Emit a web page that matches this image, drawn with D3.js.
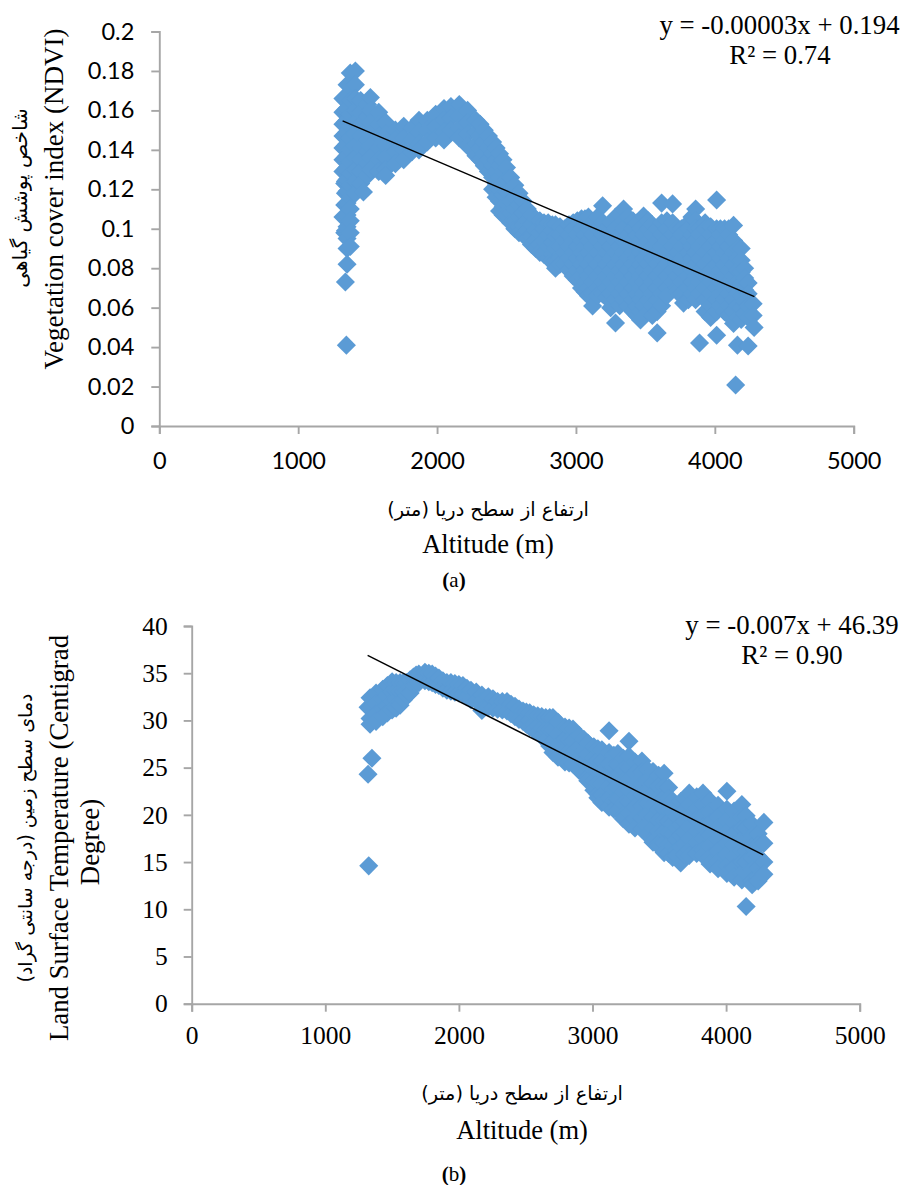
<!DOCTYPE html>
<html>
<head>
<meta charset="utf-8">
<title>NDVI and LST against altitude</title>
<script src="https://d3js.org/d3.v7.min.js"></script>
<style>
  body { margin: 0; background: #fff; }
  svg text { fill: #000; }
  .axis path, .axis line { stroke: #a6a6a6; stroke-width: 1.9; }
  .serif { font-family: "Liberation Serif", serif; }
  .persian { font-family: "DejaVu Sans", sans-serif; }
</style>
</head>
<body>
<div id="chart"></div>
<script>
// Panel (a), values: one altitude, then the NDVI values seen at it
var ndviAltitudes = [1322,1335,1340,1347,1352,1375,1412,1450,1470,1500,1520,1580,1630,1700,1760,1820,1870,1930,1990,2050,2100,2160,2220,2280,2310,2340,2370,2400,2425,2450,2475,2500,2530,2560,2590,2620,2650,2680,2710,2740,2770,2800,2830,2853,2885,2920,2950,2980,3010,3040,3065,3090,3120,3155,3192,3220,3250,3285,3315,3343,3375,3410,3440,3465,3487,3520,3550,3585,3617,3655,3696,3730,3760,3775,3810,3835,3862,3890,3930,3970,4013,4040,4070,4100,4135,4150,4163,4190,4215,4240,4276,4283];
var ndviValues = [
  [.166,.159,.153,.147,.141,.135,.129,.106],
  [.123,.112,.098],
  [.165,.16,.154,.148,.142,.136,.13,.124,.118,.112,.106,.099,.073],
  [.041],
  [.173,.167,.161,.155,.149,.143,.137,.131,.125,.119,.113,.107,.101,.095,.09,.082],
  [.179,.172,.165,.158,.152,.146,.14,.134,.128,.122,.116,.11,.104,.098,.091],
  [.18,.173,.166,.16,.154,.148,.142,.136,.13,.124,.118],
  [.165,.159,.153,.147,.141,.135,.129,.123],
  [.1186],
  [.163,.157,.151,.145,.139,.133,.127],
  [.1665,.16,.154,.148,.142,.136,.13],
  [.159,.153,.147,.141,.135,.129],
  [.154,.148,.142,.136,.13,.127],
  [.15,.145,.139,.133],
  [.152,.146,.14,.135],
  [.151,.145,.139],
  [.155,.149,.143,.14],
  [.155,.15,.144],
  [.158,.152,.146],
  [.161,.155,.149,.145],
  [.162,.156,.15],
  [.163,.157,.151,.146],
  [.16,.154,.148,.142],
  [.155,.149,.143,.137],
  [.153,.147,.141,.135],
  [.15,.144,.138,.132],
  [.147,.141,.135,.129],
  [.144,.138,.132,.126,.12],
  [.141,.135,.129,.123,.116],
  [.138,.132,.126,.12,.114,.109],
  [.135,.129,.123,.117,.111,.107],
  [.131,.125,.119,.113,.107],
  [.126,.12,.114,.108,.103],
  [.122,.116,.11,.104,.1],
  [.118,.112,.106,.101,.098],
  [.114,.108,.102,.097],
  [.11,.104,.099,.095],
  [.107,.102,.096,.092],
  [.105,.099,.094,.09],
  [.104,.098,.092,.088],
  [.103,.1,.094,.088,.087],
  [.103,.097,.091,.085],
  [.102,.099,.093,.087,.084],
  [.102,.096,.09,.084,.08],
  [.101,.097,.091,.085,.082],
  [.1,.094,.088,.082],
  [.102,.097,.091,.085,.079],
  [.103,.1,.094,.088,.082,.076],
  [.104,.097,.091,.085,.079,.074],
  [.105,.1,.094,.088,.082,.076,.07],
  [.105,.097,.091,.085,.079,.073,.068],
  [.106,.1,.094,.088,.082,.076,.07,.066],
  [.103,.097,.091,.085,.079,.073,.067,.0608],
  [.106,.1,.094,.088,.082,.076,.07,.066],
  [.1116,.103,.097,.091,.085,.079,.073,.067],
  [.1,.094,.088,.082,.076,.07,.065],
  [.103,.097,.091,.085,.079,.073,.067,.06],
  [.106,.1,.094,.088,.082,.076,.07,.064,.0522],
  [.107,.097,.091,.085,.079,.073,.067,.061],
  [.11,.104,.1,.094,.088,.082,.076,.07,.064],
  [.106,.097,.091,.085,.079,.073,.067,.061],
  [.104,.1,.094,.088,.082,.076,.07,.064,.058],
  [.103,.097,.091,.085,.079,.073,.067,.061,.056],
  [.1,.094,.088,.082,.076,.07,.064,.058,.0537],
  [.1065,.097,.091,.085,.079,.073,.067,.061],
  [.104,.1,.094,.088,.082,.076,.07,.064,.058],
  [.102,.097,.091,.085,.079,.073,.067,.061,.056],
  [.1,.094,.088,.082,.076,.07,.064,.058,.0472],
  [.113,.103,.097,.091,.085,.079,.073,.067,.061],
  [.104,.1,.094,.088,.082,.076,.07,.066],
  [.1126,.103,.097,.091,.085,.079,.073],
  [.1,.094,.088,.082,.076,.07,.068],
  [.1,.097,.091,.085,.079,.073,.067],
  [.0623],
  [.103,.1,.094,.088,.082,.076,.07,.064],
  [.106,.097,.091,.085,.079,.073,.067],
  [.11,.104,.1,.094,.088,.082,.076,.07,.064],
  [.1,.097,.091,.085,.079,.073,.067,.0421],
  [.103,.1,.094,.088,.082,.076,.07,.064,.058],
  [.101,.097,.091,.085,.079,.073,.067,.061,.055],
  [.1146,.1,.094,.088,.082,.076,.07,.064,.058,.046],
  [.1,.097,.091,.085,.079,.073,.067,.061],
  [.1,.094,.088,.082,.076,.07,.064,.058],
  [.1,.097,.091,.085,.079,.073,.067,.061,.056],
  [.1017,.094,.088,.082,.076,.07,.064,.058,.052],
  [.0208],
  [.09,.085,.079,.073,.067,.061,.055,.041],
  [.09,.084,.078,.072,.066,.06,.054],
  [.08,.075,.069,.063,.057],
  [.0725,.067,.061,.055,.0406],
  [.062,.056],
  [.05]
];
var ndviTrendAltitude = [1320, 4285];
var ndviTrendValue = [.1547, .0656];
var ndviTicks = [0, .02, .04, .06, .08, .1, .12, .14, .16, .18, .2];

// Panel (b), land surface temperature
var lstAltitudes = [1320,1325,1335,1349,1380,1430,1465,1500,1530,1560,1585,1610,1635,1660,1680,1700,1746,1775,1800,1825,1850,1880,1910,1940,1970,2000,2030,2060,2090,2130,2172,2220,2255,2290,2325,2360,2390,2420,2450,2480,2505,2530,2560,2590,2620,2650,2680,2704,2742,2794,2825,2854,2900,2935,2965,3010,3040,3070,3124,3160,3190,3230,3273,3318,3370,3410,3453,3495,3536,3570,3600,3630,3660,3690,3724,3780,3827,3880,3940,4006,4060,4118,4150,4195,4240,4283];
var lstValues = [
  [31.4,24.3],
  [14.6],
  [32.4,31.2,30.2,29.6],
  [26],
  [32.9,31.8,30.7,29.9],
  [33.3,32.2,31.2,30.4],
  [33.7,32.6,31.5,30.8],
  [34.1,33,32,31.1],
  [34,33.1,32.2,31.3],
  [34,33,32,31.6],
  [34,33.1,32.2],
  [34,33.2,32.6],
  [34.3,33.5,32.9],
  [34.6,33.7],
  [34.8,33.9],
  [34.9,34],
  [35.1,34.2],
  [35,34.1],
  [34.9,34],
  [34.7,33.8],
  [34.5,33.7],
  [34.2,33.4],
  [34,33.2],
  [34,33.1],
  [33.9,33],
  [33.8,32.9],
  [33.7,32.8],
  [33.4,32.5],
  [33.2,32.2],
  [33,32.1],
  [32.7,32,31.05],
  [32.5,31.4],
  [32.3,31.3],
  [32,31.2],
  [32,31.1],
  [32,31],
  [31.7,30.7],
  [31.5,30.4],
  [31.2,30.1],
  [31,29.9],
  [30.9,29.6],
  [30.8,30,29.3],
  [30.6,29.6,29],
  [30.5,29.4,28.7],
  [30.4,29.2,28.3],
  [30.3,29,27.9],
  [30.3,29,27.3],
  [30.3,29,27.8,26.6],
  [29.8,28.6,27.4,26.1],
  [29.3,28,26.8,25.6],
  [29.2,27.9,26.7,25.5],
  [29.1,27.8,26.6,25.4],
  [28.4,27.2,26,24.7],
  [28,26.8,25.6,24.3],
  [27.6,26.4,25.2,24,23.6],
  [27.2,26,24.8,23.6,22.6],
  [27,25.8,24.6,23.4,22.2,21.8],
  [26.9,25.7,24.5,23.3,22.1,21.3],
  [28.9,26.6,25.4,24.2,23,21.8,20.8],
  [26.3,25.1,23.9,22.7,21.5,20.6],
  [26.5,25.3,24.1,22.9,21.7,20.5],
  [26,24.8,23.6,22.4,21.2,20,19.6],
  [27.8,26.2,25,23.8,22.6,21.4,20.2,19],
  [25.6,24.4,23.2,22,20.8,19.6,18.6],
  [25.7,24.5,23.3,22.1,20.9,19.7,18.5],
  [24.8,23.6,22.4,21.2,20,18.8,17.9],
  [24.6,23.4,22.2,21,19.8,18.6,17.4,17.1],
  [24.2,23,21.8,20.6,19.4,18.2,17,16.7],
  [24.4,23,21.8,20.6,19.4,18.2,17,16],
  [22.9,21.7,20.5,19.3,18.1,16.9,15.9],
  [21.5,20.3,19.1,17.9,16.7,15.5],
  [21,19.8,18.6,17.4,16.2,15.7],
  [21.4,20.2,19,17.8,16.6,14.9],
  [21.7,20.5,19.3,18.1,16.9,15.8],
  [22.3,21.1,19.9,18.7,17.5,16.3,15.7],
  [21.9,20.7,19.5,18.3,17.1,15.9],
  [22.3,21.1,19.9,18.7,17.5,16.3,15.7],
  [21.5,20.3,19.1,17.9,16.7,15.5,14.8],
  [21,19.8,18.6,17.4,16.2,15,14.3],
  [22.5,20.6,19.4,18.2,17,15.8,14.6,13.8],
  [20.4,19.2,18,16.8,15.6,14.4,13.4],
  [21.1,19.8,18.6,17.4,16.2,15,13.8,13.1],
  [19.9,18.6,17.4,16.2,15,13.8,10.3],
  [19,17.8,16.6,15.4,14.2,13,12.6],
  [18,16.8,15.6,14.4,13.4,13],
  [19.2,17,15,13.7]
];
var lstTrendAltitude = [1317, 4278];
var lstTrendValue = [36.9, 15.75];
var lstTicks = [0, 5, 10, 15, 20, 25, 30, 35, 40];
var altitudeTicks = [0, 1000, 2000, 3000, 4000, 5000];

var pointColor = "#5b9bd5";
var diamond = d3.symbol().type(d3.symbolSquare).size(182);

var svg = d3.select("#chart").append("svg")
    .attr("width", 901)
    .attr("height", 1185);

function flatten(altitudes, values) {
  var points = [];
  altitudes.forEach(function(a, i) {
    values[i].forEach(function(v) { points.push([a, v]); });
  });
  return points;
}

function drawPanel(opts) {
  var x = d3.scaleLinear().domain([0, 5000]).range(opts.xRange);
  var y = d3.scaleLinear().domain(opts.yDomain).range(opts.yRange);
  var g = svg.append("g");

  g.append("g").attr("class", "axis")
      .attr("transform", "translate(0," + opts.yRange[0] + ")")
      .call(d3.axisBottom(x).tickValues(altitudeTicks).tickFormat(d3.format("d")).tickSize(8).tickSizeOuter(8).tickPadding(opts.xPad))
      .call(styleTicks, opts);

  g.append("g").attr("class", "axis")
      .attr("transform", "translate(" + opts.xRange[0] + ",0)")
      .call(d3.axisLeft(y).tickValues(opts.yTicks).tickFormat(function(d) { return String(d); }).tickSize(8).tickSizeOuter(8).tickPadding(opts.yPad))
      .call(styleTicks, opts);

  g.selectAll(".pt")
      .data(flatten(opts.altitudes, opts.values))
      .enter().append("path")
      .attr("class", "pt")
      .attr("d", diamond)
      .attr("fill", pointColor)
      .attr("transform", function(d) {
        return "translate(" + x(d[0]) + "," + y(d[1]) + ") rotate(45)";
      });

  g.append("path")
      .datum(d3.zip(opts.trendX, opts.trendY))
      .attr("d", d3.line().x(function(d) { return x(d[0]); }).y(function(d) { return y(d[1]); }))
      .attr("fill", "none")
      .attr("stroke", "#000")
      .attr("stroke-width", 1.4);
}

function styleTicks(sel, opts) {
  sel.selectAll("text")
      .style("font-family", opts.tickFont)
      .style("font-size", opts.tickSize + "px")
      .attr("fill", "#000");
}

function label(txt, xPos, yPos, size, cls, rotate) {
  svg.append("text")
      .attr("class", cls)
      .attr("text-anchor", "middle")
      .attr("transform", "translate(" + xPos + "," + yPos + ")" + (rotate ? " rotate(-90)" : ""))
      .style("font-size", size + "px")
      .text(txt);
}

drawPanel({
  xRange: [159.3, 853.7], yRange: [426, 31.5], yDomain: [0, .2],
  altitudes: ndviAltitudes, values: ndviValues,
  trendX: ndviTrendAltitude, trendY: ndviTrendValue,
  yTicks: ndviTicks, tickFont: "Lato, sans-serif", tickSize: 23.5, xPad: 18, yPad: 17
});

drawPanel({
  xRange: [191.7, 859.7], yRange: [1003.7, 626], yDomain: [0, 40],
  altitudes: lstAltitudes, values: lstValues,
  trendX: lstTrendAltitude, trendY: lstTrendValue,
  yTicks: lstTicks, tickFont: "'Liberation Serif', serif", tickSize: 25.5, xPad: 14, yPad: 16
});

// Panel (a) texts
label("y = -0.00003x + 0.194", 779.5, 34, 26.8, "serif");
label("R\u00b2 = 0.74", 780, 64, 26.8, "serif");
label("ارتفاع از سطح دریا (متر)", 488, 516, 19.3, "persian");
label("Altitude (m)", 488, 553, 26.5, "serif");
label("شاخص پوشش گیاهی", 27, 198, 20, "persian", true);
label("Vegetation cover index (NDVI)", 63, 199, 27, "serif", true);

// Panel (b) texts
label("y = -0.007x + 46.39", 792, 634, 26.8, "serif");
label("R\u00b2 = 0.90", 792, 664, 26.8, "serif");
label("ارتفاع از سطح دریا (متر)", 522, 1100, 19.3, "persian");
label("Altitude (m)", 522, 1139, 26.5, "serif");
label("دمای سطح زمین (درجه سانتی گراد)", 32, 838, 19, "persian", true);
label("Land Surface Temperature (Centigrad", 68, 838, 26.8, "serif", true);
label("Degree)", 99, 842, 26.8, "serif", true);

// captions, bold bracket and plain letter
function caption(letter, xPos, yPos) {
  var t = svg.append("text").attr("class", "serif").attr("text-anchor", "middle")
      .attr("x", xPos).attr("y", yPos).style("font-size", "21px");
  t.append("tspan").style("font-weight", "bold").text("(");
  t.append("tspan").text(letter);
  t.append("tspan").style("font-weight", "bold").text(")");
}
caption("a", 454, 587);
caption("b", 454, 1181);
</script>
</body>
</html>
